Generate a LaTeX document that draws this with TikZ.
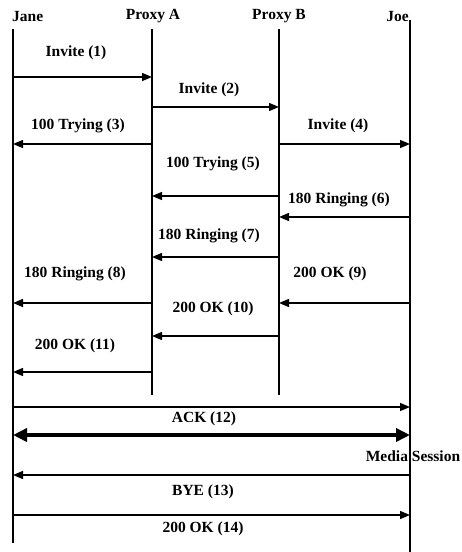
\documentclass[tikz,border=0pt]{standalone}
\usepackage{fontspec}
\setmainfont{Liberation Serif}
\usepackage{tikz}
\usetikzlibrary{calc,arrows.meta}

\tikzset{
  head/.style={font=\fontsize{15.5}{17}\selectfont\bfseries,inner sep=0pt,yshift=-1.5pt},
  lab/.style={font=\fontsize{15.5}{17}\selectfont\bfseries,inner sep=0pt,yshift=-2pt},
  life/.style={line width=1.3pt},
  msg/.style={line width=1.3pt,-{Triangle[length=10pt,width=8pt]}},
  media/.style={line width=4pt,{Triangle[length=14pt,width=13pt]}-{Triangle[length=14pt,width=13pt]}}
}

\begin{document}
\begin{tikzpicture}[x=1pt,y=-1pt]
\useasboundingbox (0,0) rectangle (461,552);
% participants
\node[head,anchor=west] (jane) at (12,15) {Jane};
\node[head] (pxa) at (153,15) {Proxy A};
\node[head] (pxb) at (279,15) {Proxy B};
\node[head,anchor=east] (joe) at (409,15) {Joe};
% lifelines
\coordinate (Jt) at (13,29);  \coordinate (Jb) at (13,543);
\coordinate (At) at (152,29); \coordinate (Ab) at (152,395);
\coordinate (Bt) at (279,29); \coordinate (Bb) at (279,395);
\coordinate (Ot) at (410,20); \coordinate (Ob) at (410,552);
\foreach \p in {J,A,B,O}{\draw[life] (\p t) -- (\p b);}
% messages
\foreach \s/\t/\yy in {J/A/77,A/B/107,A/J/144,B/O/144,B/A/196,O/B/217,B/A/257,
  A/J/303,O/B/303,B/A/336,A/J/372,J/O/407,O/J/475,J/O/515}{
  \draw[msg] (\s t |- 0,\yy) -- (\t t |- 0,\yy);}
\draw[media] (Jt |- 0,435) -- (Ot |- 0,435);
% labels
\foreach \i/\xx/\yy/\txt in {1/76/51/{Invite (1)},2/209/88/{Invite (2)},
  3/78/124/{100 Trying (3)},4/338/124/{Invite (4)},5/213/162/{100 Trying (5)},
  6/339/198/{180 Ringing (6)},7/209/234/{180 Ringing (7)},8/75/272/{180 Ringing (8)},
  9/330/272/{200 OK (9)},10/213/307/{200 OK (10)},11/75/344/{200 OK (11)},
  12/204/417/{ACK (12)},13/203/490/{BYE (13)},14/203/527/{200 OK (14)}}{
  \node[lab] (lab\i) at (\xx,\yy) {\txt};}
\node[lab] (media) at (413,454) {Media Session};
\end{tikzpicture}
\end{document}
